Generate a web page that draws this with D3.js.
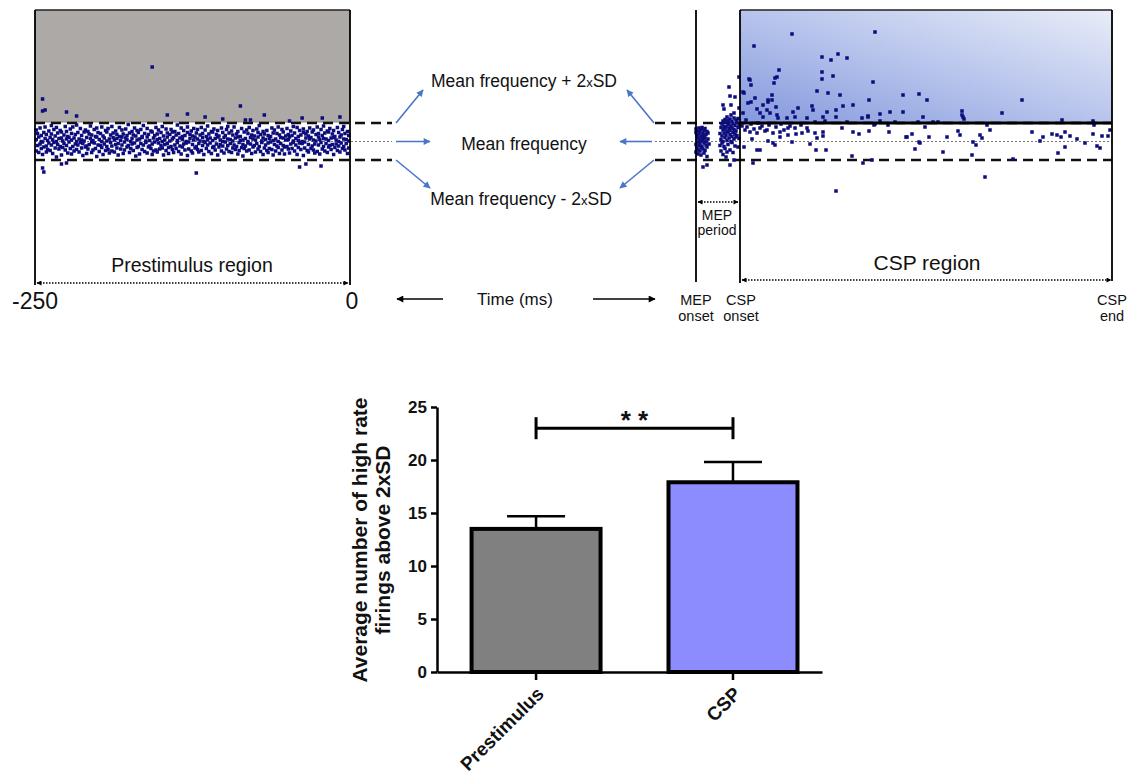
<!DOCTYPE html>
<html>
<head>
<meta charset="utf-8">
<script src="https://cdn.jsdelivr.net/npm/d3@7"></script>
<style>
  body { margin: 0; background: #fff; }
  svg { display: block; }
  text { font-family: "Liberation Sans", Arial, sans-serif; }
</style>
</head>
<body>
<script>
// ---- top panel: firing frequency vs time ----
var fMean = 20, fSD = 1.85, fTop = 46.3;
var preStart = -250, preEnd = 0;
var mepOnset = 20, cspOnset = 42, cspEnd = 228;

// rows: [time (ms), freq, freq, ...]
var prestimBand = [
[-249,20.4,18.1,22.3],[-248,19.2,21.6],[-247,17.8,20.9],[-246,22.7,19.5],[-245,18.6,21.2,20.0],[-244,19.9,17.4],[-243,21.8,18.9],[-242,20.6,22.9],
[-241,19.1,17.9,21.4],[-240,20.2,18.4],[-239,22.1,19.7],[-238,18.2,20.8],[-237,21.5,23.2,19.3],[-236,17.6,20.4],[-235,19.8,22.4],[-234,21.1,18.7],
[-233,20.0,16.9,22.8],[-232,19.4,21.7],[-231,18.5,20.6],[-230,22.2,19.0],[-229,20.7,17.3,21.9],[-228,18.8,20.1],[-227,21.3,19.6],[-226,23.0,18.3],
[-225,20.5,19.2,22.0],[-224,17.7,21.0],[-223,19.9,20.8],[-222,22.5,18.6],[-221,20.3,21.6,17.5],[-220,19.0,22.9],[-219,18.1,20.7],[-218,21.4,19.5],
[-217,20.0,23.3,18.4],[-216,21.8,19.3],[-215,17.9,20.5],[-214,22.6,19.8],[-213,18.7,21.2,20.3],[-212,19.6,17.2],[-211,21.9,20.1],[-210,18.9,22.3],
[-209,20.8,19.1,17.6],[-208,22.0,18.5],[-207,19.4,21.5],[-206,20.6,23.1],[-205,17.8,19.9,21.3],[-204,20.2,18.3],[-203,22.4,19.7],[-202,18.6,21.0],
[-201,20.9,17.0,22.7],[-200,19.3,21.8],[-199,18.0,20.4],[-198,21.6,19.2],[-197,22.9,18.8,20.0],[-196,17.4,21.1],[-195,19.5,20.7],[-194,22.2,18.2],
[-193,20.1,21.9,19.0],[-192,18.4,22.6],[-191,20.5,17.7],[-190,21.3,19.8],[-189,19.1,23.0,18.1],[-188,20.8,21.7],[-187,17.9,20.3],[-186,22.1,19.4],
[-185,18.7,21.4,20.6],[-184,19.6,17.3],[-183,21.0,22.8],[-182,18.5,20.2],[-181,20.9,19.3,22.3],[-180,17.6,21.5],[-179,19.9,18.3],[-178,22.5,20.7],
[-177,20.4,18.9,21.2],[-176,19.2,23.4],[-175,21.7,17.8],[-174,18.6,20.0],[-173,20.6,22.0,19.5],[-172,18.2,21.3],[-171,19.7,22.7],[-170,21.1,17.1],
[-169,20.3,18.8,22.2],[-168,19.0,21.8],[-167,17.5,20.5],[-166,22.4,19.6],[-165,20.8,18.4,21.0],[-164,19.3,23.2],[-163,21.6,18.0],[-162,20.1,19.8],
[-161,17.7,22.6,20.9],[-160,18.9,21.4],[-159,20.2,19.1],[-158,22.1,18.6],[-157,19.5,21.9,17.4],[-156,20.7,18.1],[-155,21.2,19.9],[-154,18.3,22.8],
[-153,20.4,17.9,21.5],[-152,19.7,22.3],[-151,18.5,20.6],[-150,21.8,19.2],[-149,20.0,23.0,18.7],[-148,17.3,21.1],[-147,19.4,20.3],[-146,22.5,18.2],
[-145,20.9,19.6,21.7],[-144,18.8,17.6],[-143,21.4,20.1],[-142,19.0,22.4],[-141,20.5,18.4,21.9],[-140,17.8,20.8],[-139,22.0,19.3],[-138,18.6,21.3],
[-137,20.2,23.3,19.8],[-136,21.6,18.0],[-135,19.1,20.7],[-134,22.7,17.5],[-133,18.9,21.0,20.4],[-132,19.5,22.2],[-131,21.2,18.3],[-130,20.0,19.7],
[-129,17.2,21.8,22.9],[-128,19.9,18.5],[-127,20.6,21.4],[-126,18.1,22.1],[-125,21.1,19.4,17.7],[-124,20.3,22.6],[-123,18.7,20.9],[-122,21.7,19.0],
[-121,22.4,18.4,20.5],[-120,19.6,17.9],[-119,21.3,20.1],[-118,18.2,22.8],[-117,20.8,19.2,21.6],[-116,17.4,20.0],[-115,19.8,22.3],[-114,21.0,18.6],
[-113,20.4,23.1,19.3],[-112,18.0,21.5],[-111,19.7,20.7],[-110,22.0,17.6],[-109,20.2,18.8,21.9],[-108,19.0,22.5],[-107,18.3,20.6],[-106,21.4,19.5],
[-105,20.9,17.3,22.2],[-104,18.9,21.1],[-103,19.4,20.3],[-102,22.7,18.1],[-101,20.0,21.8,19.1],[-100,17.7,20.8],[-99,21.2,19.9],[-98,18.5,22.4],
[-97,20.5,19.2,23.0],[-96,21.7,18.0],[-95,19.6,20.4],[-94,22.1,17.8],[-93,18.7,21.3,20.1],[-92,19.3,22.9],[-91,20.7,18.4],[-90,21.5,19.0],
[-89,17.5,20.9,22.0],[-88,19.8,18.2],[-87,21.0,20.2],[-86,18.8,22.6],[-85,20.3,19.4,17.1],[-84,21.9,18.6],[-83,19.1,20.6],[-82,22.3,18.1],
[-81,20.0,21.6,19.7],[-80,18.3,22.8],[-79,19.5,20.8],[-78,21.3,17.6],[-77,20.5,18.9,22.2],[-76,19.2,21.1],[-75,17.9,20.3],[-74,22.5,19.6],
[-73,20.9,18.5,21.8],[-72,19.0,23.2],[-71,21.4,18.0],[-70,20.1,19.8],[-69,17.4,22.0,20.7],[-68,18.7,21.5],[-67,20.4,19.3],[-66,22.2,18.2],
[-65,19.7,21.2,17.8],[-64,20.6,18.6],[-63,21.0,19.9],[-62,18.4,22.7],[-61,20.2,17.3,21.7],[-60,19.4,22.3],[-59,18.1,20.5],[-58,21.6,19.1],
[-57,20.0,22.9,18.8],[-56,17.6,21.3],[-55,19.6,20.8],[-54,22.4,18.3],[-53,20.7,19.2,21.9],[-52,18.9,17.5],[-51,21.1,20.3],[-50,19.0,22.6],
[-49,20.4,18.5,21.4],[-48,17.7,20.9],[-47,22.1,19.5],[-46,18.6,21.2],[-45,20.1,23.0,19.8],[-44,21.7,18.1],[-43,19.3,20.6],[-42,22.8,17.4],
[-41,18.8,21.0,20.2],[-40,19.7,22.2],[-39,21.3,18.4],[-38,20.0,19.6],[-37,17.2,21.8,22.5],[-36,19.9,18.7],[-35,20.7,21.5],[-34,18.2,22.0],
[-33,21.1,19.4,17.9],[-32,20.5,22.7],[-31,18.6,20.8],[-30,21.9,19.1],[-29,22.3,18.3,20.3],[-28,19.5,17.7],[-27,21.4,20.1],[-26,18.0,22.9],
[-25,20.9,19.3,21.6],[-24,17.5,20.4],[-23,19.8,22.4],[-22,21.2,18.5],[-21,20.6,23.1,19.0],[-20,18.1,21.7],[-19,19.6,20.5],[-18,22.1,17.8],
[-17,20.2,18.9,21.9],[-16,19.2,22.6],[-15,18.4,20.7],[-14,21.5,19.4],[-13,20.8,17.4,22.2],[-12,18.8,21.0],[-11,19.5,20.3],[-10,22.8,18.2],
[-9,20.0,21.8,19.1],[-8,17.9,20.9],[-7,21.3,19.7],[-6,18.6,22.4],[-5,20.5,19.0,23.0],[-4,21.6,18.3],[-3,19.6,20.4],[-2,22.0,17.6],[-1,18.7,21.2,20.1]
];

var prestimOutliers = [
[-244,28.5,26.1,14.7],[-243,13.9],[-242,26.3],[-229,15.5],[-225,25.9,15.7],[-217,25.1],[-157,34.9],[-145,25.3],
[-129,25.5],[-122,13.7],[-115,24.9],[-101,24.5],[-87,27.1],[-83,24.3],[-79,24.3],[-68,25.3],
[-48,24.1],[-40,14.9],[-38,24.7],[-35,15.5],[-23,15.1],[-22,24.7],[-8,24.9]
];

var mepPoints = [
[20,21.8,19.4,17.9,22.5],[20.5,20.6,18.7,21.2],[21,22.1,19.9,18.3,20.8,17.5],[21.5,21.5,19.2,22.7],[22,20.3,18.1,21.9,19.6],
[22.5,22.4,20.9,18.8,17.3],[23,21.1,19.0,20.1,22.8],[23.5,18.5,21.6,20.4,14.9],[24,22.2,19.7,17.7,21.0],[24.5,20.7,18.2,22.6],
[25,21.4,19.3,20.0],[25.5,22.0,18.9,17.0,15.3],[26,20.5,21.7],[26.5,19.5],
[32,21.6,19.2],[32.5,22.8,20.4,18.1],[33,23.5,21.1,19.7],[33.5,22.3,24.1,20.0,17.4,27.3],[34,23.0,21.7,19.0,26.5],
[34.5,24.4,22.5,20.8,18.6],[35,23.8,21.3,22.9,16.9],[35.5,24.9,22.0,20.2,17.9],[36,23.3,21.9,19.4,24.2],[36.5,22.6,20.7,23.7,30.9],
[37,24.5,21.4,18.3,22.2,29.1,15.3],[37.5,23.1,20.0,25.3,27.3],[38,22.7,24.0,19.8,21.0],[38.5,23.6,21.8,17.8],[39,22.4,24.7,20.5,25.7,16.3],
[39.5,23.2,21.5,19.1,28.9],[40,24.3,22.1,20.9],[40.5,23.9,21.2],[41,22.8,24.6,18.9],[41.5,23.4,20.6,32.9,26.7]
];

var cspPoints = [
[43.5,25.7,29.9],[44,29.7],[45,24.3],[46,27.7],[46.5,32.5],[47,32.3],[47.5,27.9,31.3],[49,39.1],[49.5,28.7],[50.5,26.5],[52,25.7],
[53.5,27.3,24.9],[55.5,26.3],[56,28.3,27.9],[57,25.7],[58,29.3,28.3],[59,31.7],[59.5,32.7],[60,26.9],[60.5,25.3,32.9],[61,24.7],
[61.5,34.3],[65.5,24.7],[68,41.5],[68.5,25.9],[69.5,24.9],[71,26.7],[75.5,24.7],[78,27.1],[78.5,26.3],[79.5,23.9],[80.5,30.1],
[83,36.9,33.9,32.5],[83.5,24.9],[84.5,24.1],[85.5,25.9],[86,29.7],[87.5,36.3],[88.5,33.1],[90,26.3,24.9],[91,37.5],[92,29.3],
[93.5,27.1],[95.5,36.7,23.9],[98.5,27.3],[103,24.7],[106,24.9,25.1],[106.5,28.3],[108.5,31.9],[109,23.3],[109.5,41.9,23.5],
[112,25.5,24.1],[116,23.3],[117,25.9],[119.5,23.9],[123.5,29.3,25.9],[131,23.9],[131.5,29.5],[133.5,24.9],[134.5,22.9],[135.5,28.3],
[138.5,23.9],[141,23.9],[153,26.1,25.3],[153.5,24.9],[154,24.5],[165.5,23.3],[173,25.7],[183,28.3],[203,24.3],[218.5,24.1],[219,23.3],
[43,23.1],[45.5,22.9],[47.5,23.5],[49,22.5],[51,23.7],[53,23.1],[54.5,22.1],[56.5,23.3],[60,22.9],[62.5,23.5],[64,22.3],[67,23.1],
[70,21.5],[72.5,23.3],[76,22.1],[62,20.9],[66,21.3],[48,20.5],[56,20.1],[68,19.9],[44,18.9],[77,19.5],
[44.5,22.3],[47,21.9],[50.5,21.7,18.3],[52,22.7,18.3],[55.5,22.3],[58.5,21.7,19.7],[59.5,19.3],[62,21.9],[66,22.7],[69.5,22.7],
[73,21.7],[75.5,22.7],[79.5,21.7],[80,18.3],[80.5,20.7],[83.5,21.9,21.1],[85,18.3],[93,22.7],[98,17.1],[98.5,21.9],[101.5,21.5],
[103.5,15.7],[106.5,22.1],[108,16.3],[116.5,21.9],[125,20.9],[125.5,20.9],[128,21.5],[129.5,18.5],[131.5,19.9],[132,19.7],
[136.5,20.9],[143.5,17.9],[145.5,20.9],[151,22.1],[152,21.3],[158,17.3],[158.5,19.9],[160,19.3],[162,21.3],[163,20.7],[167,22.3],
[178.5,16.5],[188,21.9],[192,20.1],[193.5,20.9],[198,21.5],[200.5,21.3],[201,17.7],[202.5,20.9],[204.5,18.9,21.9],[207,21.1],
[210.5,20.5],[214.5,19.7],[218.5,21.5],[220.5,19.1],[222,18.7],[223,21.1],[226,21.1],[227,22.3],
[48.5,15.7],[90,10.1],[164.5,12.9]
];

// ---- bottom panel: bar chart ----
var barCats = ["Prestimulus", "CSP"];
var barMeans = [13.5, 17.9];
var barSEM = [1.2, 1.9];
var barFills = ["#808080", "#8c8cff"];
var barTicks = [0, 5, 10, 15, 20, 25];
var sigLevel = 23;

var dotColor = "#0c0c7c";
var arrowBlue = "#4a76c8";

var svg = d3.select("body").append("svg")
    .attr("width", 1140)
    .attr("height", 776);

var defs = svg.append("defs");

function addMarker(id, color, w, h) {
    defs.append("marker")
        .attr("id", id)
        .attr("viewBox", "0 0 10 10")
        .attr("refX", 9).attr("refY", 5)
        .attr("markerWidth", w).attr("markerHeight", h)
        .attr("markerUnits", "userSpaceOnUse")
        .attr("orient", "auto-start-reverse")
        .append("path")
        .attr("d", "M0,0L10,5L0,10z")
        .attr("fill", color);
}
addMarker("blueHead", arrowBlue, 8, 7);
addMarker("blackHead", "#000", 9, 7);
addMarker("smallHead", "#000", 6, 5);

var grad = defs.append("linearGradient")
    .attr("id", "cspGrad")
    .attr("x1", 0).attr("y1", 1).attr("x2", 1).attr("y2", 0);
grad.append("stop").attr("offset", "0%").attr("stop-color", "#8399dc");
grad.append("stop").attr("offset", "50%").attr("stop-color", "#b7c4ec");
grad.append("stop").attr("offset", "100%").attr("stop-color", "#e9edf8");

// scales
var xPre = d3.scaleLinear().domain([preStart, preEnd]).range([35, 350]);
var xPost = d3.scaleLinear().domain([mepOnset, cspEnd]).range([696, 1112]);
var yF = d3.scaleLinear().domain([0, fTop]).range([241.5, 10]);

var yUp = yF(fMean + 2 * fSD), yMid = yF(fMean), yLow = yF(fMean - 2 * fSD);

// shaded regions above mean + 2SD
svg.append("rect")
    .attr("x", xPre(preStart)).attr("y", yF(fTop))
    .attr("width", xPre(preEnd) - xPre(preStart))
    .attr("height", yUp - yF(fTop) - 1)
    .attr("fill", "#aca9a7");
svg.append("line")
    .attr("x1", xPre(preStart)).attr("x2", xPre(preEnd))
    .attr("y1", yUp - 1).attr("y2", yUp - 1)
    .attr("stroke", "#8a8886").attr("stroke-width", 1);
svg.append("line")
    .attr("x1", xPre(preStart)).attr("x2", xPre(preEnd))
    .attr("y1", yF(fTop)).attr("y2", yF(fTop))
    .attr("stroke", "#222").attr("stroke-width", 1.5);

svg.append("rect")
    .attr("x", xPost(cspOnset)).attr("y", yF(fTop))
    .attr("width", xPost(cspEnd) - xPost(cspOnset))
    .attr("height", yUp - yF(fTop))
    .attr("fill", "url(#cspGrad)");
svg.append("line")
    .attr("x1", xPost(cspOnset)).attr("x2", xPost(cspEnd))
    .attr("y1", yF(fTop)).attr("y2", yF(fTop))
    .attr("stroke", "#222").attr("stroke-width", 1.5);

// mean and +-2SD lines
var lineSpans = [[xPre(preStart), xPre(preEnd) + 42], [655, xPost(cspEnd)]];
lineSpans.forEach(function (s) {
    [yUp, yLow].forEach(function (yy) {
        svg.append("line")
            .attr("x1", s[0]).attr("x2", s[1]).attr("y1", yy).attr("y2", yy)
            .attr("stroke", "#111").attr("stroke-width", 2.5)
            .attr("stroke-dasharray", "10,6");
    });
    svg.append("line")
        .attr("x1", s[0]).attr("x2", s[1]).attr("y1", yMid).attr("y2", yMid)
        .attr("stroke", "#777").attr("stroke-width", 1)
        .attr("stroke-dasharray", "2,2");
});

// dots
var dotSize = 3.5;
function drawDots(rows, xs, cls) {
    var pts = [];
    rows.forEach(function (r) {
        for (var i = 1; i < r.length; i++) pts.push([r[0], r[i]]);
    });
    svg.append("g").selectAll("rect." + cls)
        .data(pts)
        .enter()
        .append("rect")
        .attr("class", cls)
        .attr("x", function (d) { return xs(d[0]) - dotSize / 2; })
        .attr("y", function (d) { return yF(d[1]) - dotSize / 2; })
        .attr("width", dotSize)
        .attr("height", dotSize)
        .attr("fill", dotColor);
}
drawDots(prestimBand, xPre, "band");
drawDots(prestimOutliers, xPre, "out");
drawDots(mepPoints, xPost, "mep");
drawDots(cspPoints, xPost, "csp");

// thick threshold line across CSP region
svg.append("line")
    .attr("x1", xPost(cspOnset)).attr("x2", xPost(cspEnd))
    .attr("y1", yUp).attr("y2", yUp)
    .attr("stroke", "#000").attr("stroke-width", 3);

// vertical boundaries
var vLines = [
    [xPre(preStart), 285], [xPre(preEnd), 285],
    [xPost(mepOnset), 282], [xPost(cspOnset), 283], [xPost(cspEnd), 281]
];
vLines.forEach(function (v) {
    svg.append("line")
        .attr("x1", v[0]).attr("x2", v[0])
        .attr("y1", yF(fTop)).attr("y2", v[1])
        .attr("stroke", "#000").attr("stroke-width", 1.8);
});

// dotted double arrows
function dottedArrow(x1, x2, yy) {
    svg.append("line")
        .attr("x1", x1).attr("x2", x2).attr("y1", yy).attr("y2", yy)
        .attr("stroke", "#000").attr("stroke-width", 1.3)
        .attr("stroke-dasharray", "1.5,1.5")
        .attr("marker-start", "url(#smallHead)")
        .attr("marker-end", "url(#smallHead)");
}
dottedArrow(xPre(preStart) + 2, xPre(preEnd) - 2, 283);
dottedArrow(xPost(cspOnset) + 2, xPost(cspEnd) - 1, 280);
dottedArrow(xPost(mepOnset) + 2, xPost(cspOnset) - 2, 202);

// blue annotation arrows
var blueArrows = [
    [396, yUp, 423, 90], [396, yMid, 430, yMid], [396, yLow, 430, 188],
    [654, yUp, 627, 90], [652, yMid, 620, yMid], [654, yLow, 620, 188]
];
blueArrows.forEach(function (a) {
    svg.append("line")
        .attr("x1", a[0]).attr("y1", a[1]).attr("x2", a[2]).attr("y2", a[3])
        .attr("stroke", arrowBlue).attr("stroke-width", 1.6)
        .attr("marker-end", "url(#blueHead)");
});

function label(x, y, size, str, anchor) {
    return svg.append("text")
        .attr("x", x).attr("y", y)
        .attr("font-size", size)
        .attr("text-anchor", anchor || "middle")
        .attr("fill", "#111")
        .text(str);
}

function sdLabel(x, y, sign) {
    var t = svg.append("text")
        .attr("x", x).attr("y", y)
        .attr("font-size", 17.5)
        .attr("text-anchor", "middle")
        .attr("fill", "#111");
    t.append("tspan").text("Mean frequency " + sign + " 2");
    t.append("tspan").attr("font-size", 13).text("x");
    t.append("tspan").text("SD");
}
sdLabel(524, 87, "+");
label(524, 150, 17.5, "Mean frequency");
sdLabel(521, 205, "-");

label(192, 272, 19.5, "Prestimulus region");
label(927, 270, 21, "CSP region");
label(xPre(preStart), 309, 23, "-250");
label(xPre(preEnd) + 2, 309, 23, "0");

label(515, 305, 17, "Time (ms)");
svg.append("line")
    .attr("x1", 443).attr("x2", 397).attr("y1", 299).attr("y2", 299)
    .attr("stroke", "#000").attr("stroke-width", 1.3)
    .attr("marker-end", "url(#blackHead)");
svg.append("line")
    .attr("x1", 593).attr("x2", 655).attr("y1", 299).attr("y2", 299)
    .attr("stroke", "#000").attr("stroke-width", 1.3)
    .attr("marker-end", "url(#blackHead)");

label((xPost(mepOnset) + xPost(cspOnset)) / 2 - 1, 220, 14, "MEP");
label((xPost(mepOnset) + xPost(cspOnset)) / 2 - 1, 235, 14, "period");

var onsetLabels = [
    [xPost(mepOnset), "MEP", "onset"],
    [xPost(cspOnset) + 1, "CSP", "onset"],
    [xPost(cspEnd), "CSP", "end"]
];
onsetLabels.forEach(function (o) {
    label(o[0], 305, 14.5, o[1]);
    label(o[0], 321, 14.5, o[2]);
});

// ---- bar chart ----
var xb = d3.scaleBand()
    .domain(barCats)
    .range([437, 822])
    .paddingInner(0.345)
    .paddingOuter(0.15)
    .align(0.585);
var yb = d3.scaleLinear().domain([0, 25]).range([672, 407]);

var gBars = svg.append("g");

// error bars (upper only)
barCats.forEach(function (c, i) {
    var cx = xb(c) + xb.bandwidth() / 2;
    gBars.append("line")
        .attr("x1", cx).attr("x2", cx)
        .attr("y1", yb(barMeans[i])).attr("y2", yb(barMeans[i] + barSEM[i]))
        .attr("stroke", "#000").attr("stroke-width", 2.5);
    gBars.append("line")
        .attr("x1", cx - 29).attr("x2", cx + 29)
        .attr("y1", yb(barMeans[i] + barSEM[i])).attr("y2", yb(barMeans[i] + barSEM[i]))
        .attr("stroke", "#000").attr("stroke-width", 2.5);
});

gBars.selectAll("rect")
    .data(barCats)
    .enter()
    .append("rect")
    .attr("x", function (d) { return xb(d); })
    .attr("y", function (d, i) { return yb(barMeans[i]); })
    .attr("width", xb.bandwidth())
    .attr("height", function (d, i) { return yb(0) - yb(barMeans[i]); })
    .attr("fill", function (d, i) { return barFills[i]; })
    .attr("stroke", "#000")
    .attr("stroke-width", 4);

var yAxis = svg.append("g")
    .attr("transform", "translate(437,0)")
    .call(d3.axisLeft(yb).tickValues(barTicks).tickSize(6).tickSizeOuter(0).tickPadding(4));
yAxis.selectAll("text")
    .attr("font-size", 17).attr("font-weight", "bold")
    .attr("font-family", "'Liberation Sans', Arial, sans-serif").attr("fill", "#111");

var xAxis = svg.append("g")
    .attr("transform", "translate(0,672)")
    .call(d3.axisBottom(xb).tickSize(8).tickSizeOuter(0));
xAxis.selectAll("text").remove();

[yAxis, xAxis].forEach(function (g) {
    g.selectAll("path, line").attr("stroke", "#000").attr("stroke-width", 2.5);
});

barCats.forEach(function (c) {
    var cx = xb(c) + xb.bandwidth() / 2;
    svg.append("text")
        .attr("transform", "translate(" + (cx + 9) + ",695) rotate(-45)")
        .attr("text-anchor", "end")
        .attr("font-size", 19)
        .attr("font-weight", "bold")
        .attr("fill", "#111")
        .text(c);
});

// axis title
var yTitle = svg.append("text")
    .attr("transform", "translate(367,540) rotate(-90)")
    .attr("text-anchor", "middle")
    .attr("font-size", 21)
    .attr("font-weight", "bold")
    .attr("fill", "#111");
yTitle.append("tspan").attr("x", 0).attr("dy", 0).text("Average number of high rate");
yTitle.append("tspan").attr("x", 0).attr("dy", 23).text("firings above 2xSD");

// significance bracket
var c0 = xb(barCats[0]) + xb.bandwidth() / 2, c1 = xb(barCats[1]) + xb.bandwidth() / 2;
svg.append("line")
    .attr("x1", c0).attr("x2", c1).attr("y1", yb(sigLevel)).attr("y2", yb(sigLevel))
    .attr("stroke", "#000").attr("stroke-width", 3);
[c0, c1].forEach(function (cx) {
    svg.append("line")
        .attr("x1", cx).attr("x2", cx)
        .attr("y1", yb(sigLevel) - 11).attr("y2", yb(sigLevel) + 11)
        .attr("stroke", "#000").attr("stroke-width", 3);
});
svg.append("text")
    .attr("x", (c0 + c1) / 2)
    .attr("y", yb(sigLevel) + 1)
    .attr("text-anchor", "middle")
    .attr("font-size", 26)
    .attr("font-weight", "bold")
    .attr("fill", "#111")
    .text("* *");
</script>
</body>
</html>
